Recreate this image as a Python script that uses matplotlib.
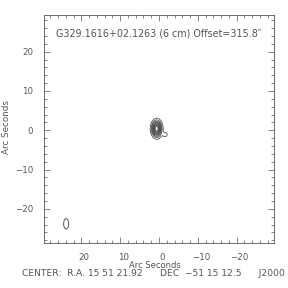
import numpy as np
import matplotlib as mpl
mpl.use('Agg')
import matplotlib.pyplot as plt
from matplotlib.patches import Ellipse
from matplotlib.ticker import MultipleLocator
from matplotlib.transforms import ScaledTranslation

# labels / annotation text
title = 'G329.1616+02.1263 (6 cm) Offset=315.8\u2033'
xlabel = 'Arc Seconds'
ylabel = 'Arc Seconds'
footer = 'CENTER:  R.A. 15 51 21.92      DEC  \u221251 15 12.5      J2000'

# source model components: amplitude, x0, y0, sigma_x, sigma_y (arcsec)
comp_amp = [1.0, 0.18]
comp_x0 = [0.6, -1.6]
comp_y0 = [0.4, -1.1]
comp_sx = [0.78, 0.45]
comp_sy = [1.25, 0.45]

# contour levels (fraction of peak)
levels = [0.1, 0.2, 0.3, 0.4, 0.5, 0.6, 0.7, 0.8, 0.9]

# restoring beam: x, y, width, height (arcsec)
beam_x, beam_y = 23.9, -23.8
beam_w, beam_h = 1.3, 2.6

xlim = (29.6, -29.6)
ylim = (-28.6, 29.4)

gx = np.linspace(-10, 10, 401)
gy = np.linspace(-10, 10, 401)
X, Y = np.meshgrid(gx, gy)
Z = np.zeros_like(X)
for a, x0, y0, sx, sy in zip(comp_amp, comp_x0, comp_y0, comp_sx, comp_sy):
    Z += a * np.exp(-((X - x0) ** 2 / (2 * sx ** 2) + (Y - y0) ** 2 / (2 * sy ** 2)))
Z = Z / Z.max()

col = '#555555'
plt.rcParams['font.family'] = 'DejaVu Sans'
plt.rcParams['font.size'] = 6

fig = plt.figure(figsize=(2.88, 2.88), dpi=100)
ax = fig.add_axes([44 / 288, 45.3 / 288, 230 / 288, 228 / 288])

ax.contour(X, Y, Z, levels=levels, colors='#333333', linewidths=0.5)
ax.add_patch(Ellipse((beam_x, beam_y), beam_w, beam_h, fill=False, ec=col, lw=0.7))

ax.set_xlim(*xlim)
ax.set_ylim(*ylim)
ax.xaxis.set_major_locator(MultipleLocator(10))
ax.xaxis.set_minor_locator(MultipleLocator(2))
ax.yaxis.set_major_locator(MultipleLocator(10))
ax.yaxis.set_minor_locator(MultipleLocator(2))
ax.tick_params(which='both', direction='in', top=True, right=True, colors=col,
               labelcolor=col, width=0.5)
ax.tick_params(which='major', length=4.5, pad=8, labelsize=6.2)
ax.tick_params(axis='x', which='major', pad=7.2)
ax.tick_params(which='minor', length=2.2)
for s in ax.spines.values():
    s.set_color(col)
    s.set_linewidth(0.6)

# IDL-style labels sit a little right of their ticks
shift = ScaledTranslation(3 / 100, 0, fig.dpi_scale_trans)
for lab in ax.get_xticklabels():
    lab.set_transform(lab.get_transform() + shift)

fig.text(155 / 288, 1 - 265.5 / 288, xlabel, color=col, fontsize=6,
         ha='center', va='center')
fig.text(7 / 288, 1 - 127 / 288, ylabel, color=col, fontsize=6.3,
         ha='center', va='center', rotation=90)
ax.text(0.05, 0.918, title, transform=ax.transAxes, color=col, fontsize=6.9,
        ha='left', va='center')
fig.text(153 / 288, 1 - 273.5 / 288, footer, color=col, fontsize=6.6,
         ha='center', va='center')

fig.savefig('out.png', dpi=100)
